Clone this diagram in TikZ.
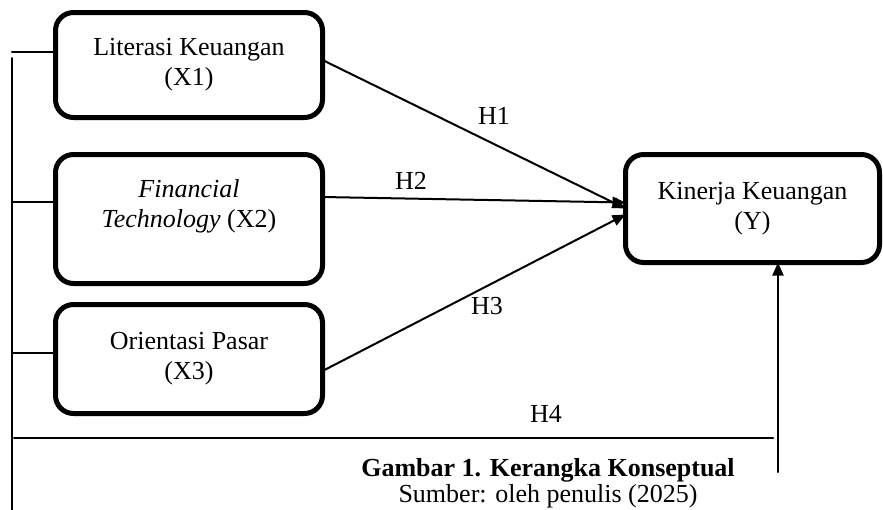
\documentclass[tikz,border=0pt]{standalone}
\usepackage{fontspec}
\setmainfont{Liberation Serif}
\usetikzlibrary{positioning,arrows.meta}

\begin{document}
\begin{tikzpicture}[cap=round]
\tikzstyle{var} = [rectangle, rounded corners=9pt, line width=2.5pt, draw=black, outer sep=0pt, minimum width=133.5pt, align=center, font=\fontsize{13}{15}\selectfont]
\tikzstyle{arrow} = [line width=1pt,-{Triangle[length=6.5pt,width=5.5pt]}]
\tikzstyle{bus} = [line width=1pt]
\tikzstyle{hyp} = [inner sep=1pt, font=\fontsize{13}{15}\selectfont]

\useasboundingbox (0,0) rectangle (441.5pt,-254.5pt);

\node (x1) [var, minimum height=52.5pt] at (94.5pt,-32.5pt) {Literasi Keuangan\\(X1)};
\node (x2) [var, minimum height=64.5pt, text depth=16pt, below=18.5pt of x1] {\textit{Financial}\\\textit{Technology} (X2)};
\node (x3) [var, minimum height=54.5pt, below=10.5pt of x2] {Orientasi Pasar\\(X3)};

\node (y) [var, minimum width=127pt, minimum height=54pt, right=151.5pt of x2, yshift=5.25pt] {Kinerja Keuangan\\(Y)};

% bus on the left
\coordinate (bustop) at (6pt,-29pt);
\coordinate (busend) at (6pt,-258pt);
\draw [bus] (bustop) -- (busend);
\draw [bus] ([yshift=6.5pt]x1.west) -- ++(-21.75pt,0);
\draw [bus] ([yshift=8.5pt]x2.west) -- ++(-21.75pt,0);
\draw [bus] ([yshift=3pt]x3.west) -- ++(-21.75pt,0);

\draw [arrow] ([yshift=2.5pt]x1.east) -- (y.west) node [hyp, pos=0.566, above=8.5pt] (h1) {H1};
\draw [arrow] ([yshift=11pt]x2.east) -- ([yshift=3pt]y.west) node [hyp, pos=0.292, above=3.3pt] (h2) {H2};
\draw [arrow] ([yshift=-6pt]x3.east) -- ([yshift=-3pt]y.west) node [hyp, pos=0.543, below=4pt] (h3) {H3};

% H4
\coordinate (h4start) at (7pt,-219pt);
\coordinate (h4end) at (386.5pt,-219pt);
\coordinate (h4up) at (389pt,-236pt);
\draw [bus] (h4start) -- (h4end) node [hyp, pos=0.701, above=6.5pt] (h4) {H4};
\draw [arrow] (h4up) -- (h4up |- y.south);

\node (caption) [anchor=base, inner sep=0pt, font=\fontsize{13}{15}\selectfont\bfseries] at (274pt,-238pt) {Gambar 1. Kerangka Konseptual};
\node (source) [anchor=base, inner sep=0pt, font=\fontsize{13}{15}\selectfont] at (274pt,-251pt) {Sumber: oleh penulis (2025)};

\end{tikzpicture}
\end{document}
